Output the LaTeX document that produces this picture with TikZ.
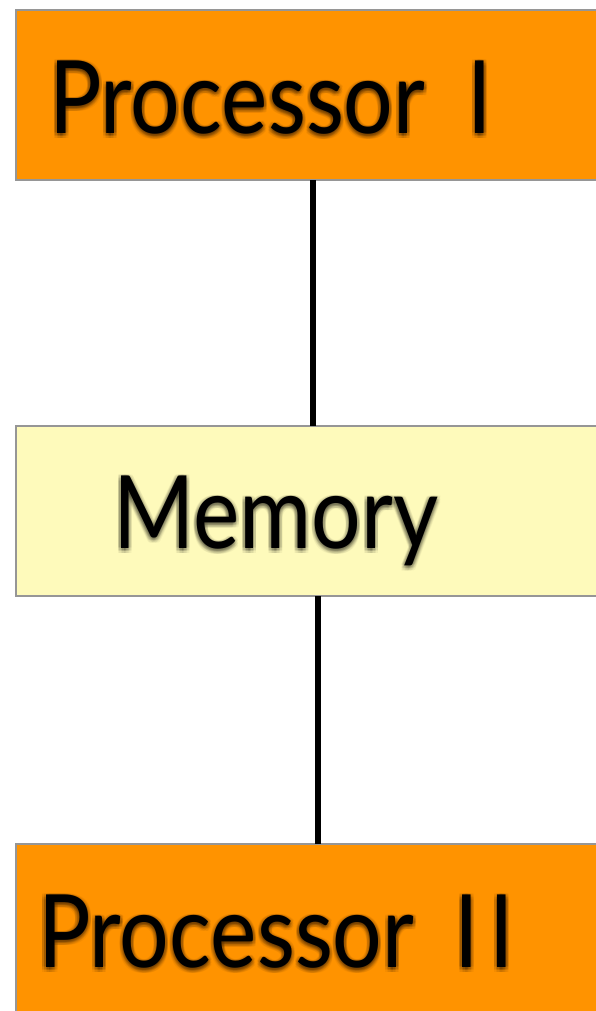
\documentclass[tikz,border=0pt]{standalone}
\usepackage{fontspec}
\setmainfont{Lato}
\newfontfamily\narrowlato[FakeStretch=0.865]{Lato}
\definecolor{procorange}{RGB}{255,147,0}
\definecolor{memyellow}{RGB}{254,250,187}
\definecolor{boxedge}{RGB}{150,150,150}
\begin{document}
\begin{tikzpicture}[x=0.75pt,y=-0.75pt,
  unitbox/.style={draw=boxedge,line width=1.2pt,minimum width=610*0.75pt,
    minimum height=170*0.75pt,inner sep=0pt,outer sep=0pt},
  label/.style={anchor=base west,inner sep=0pt,outer sep=0pt,
    font=\narrowlato\fontsize{76}{80}\selectfont},
  glow/.style={label,text=black,text opacity=0.045},
  link/.style={line width=4.5pt,black}]
\useasboundingbox (0,0) rectangle (596,1011);
\clip (0,0) rectangle (596,1011);

% boxes (they run past the right and lower edges)
\node[unitbox,fill=procorange] (p1)  at (321,95)  {};
\node[unitbox,fill=memyellow]  (mem) at (321,511) {};
\node[unitbox,fill=procorange] (p2)  at (321,929) {};

% connectors
\draw[link] ([xshift=-8*0.75pt]p1.south) -- ([xshift=-8*0.75pt]mem.north);
\draw[link] ([xshift=-3*0.75pt]mem.south) -- ([xshift=-3*0.75pt]p2.north);

% label texts, with the wide gap before the numeral
\def\textone{Processor \hspace{15pt}I}
\def\textmem{Memory}
\def\texttwo{Processor \hspace{13pt}I\kern8pt I}

% soft drop shadow: stacked faint copies, a little below the labels
\foreach \dx in {-3,-1.5,0,1.5,3}{
  \foreach \dy in {-1,0.5,2,3.5,5}{
    \node[glow] (s1-\dx-\dy) at (49+\dx,133+\dy) {\textone};
    \node[glow] (s2-\dx-\dy) at (113+\dx,548+\dy) {\textmem};
    \node[glow] (s3-\dx-\dy) at (38+\dx,967+\dy) {\texttwo};
  }
}

% labels
\node[label] (t1) at (49,133)  {\textone};
\node[label] (t2) at (113,548) {\textmem};
\node[label] (t3) at (38,967)  {\texttwo};
\end{tikzpicture}
\end{document}
